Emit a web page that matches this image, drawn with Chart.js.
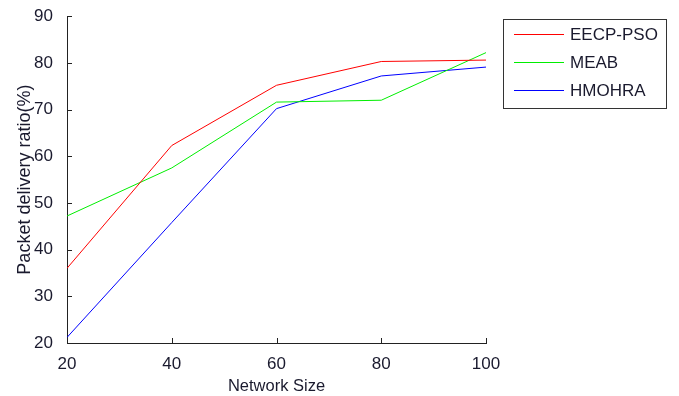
<!DOCTYPE html>
<html>
<head>
<meta charset="utf-8">
<script src="https://cdn.jsdelivr.net/npm/chart.js@4"></script>
<style>
html,body{margin:0;padding:0;background:#fff;}
#wrap{width:679px;height:396px;}
</style>
</head>
<body>
<div id="wrap"><canvas id="c" width="679" height="396"></canvas></div>
<script>
const networkSize = [20, 40, 60, 80, 100];
const eecpPso = [36.0, 62.3, 75.2, 80.3, 80.6];
const meab = [47.2, 57.5, 71.6, 72.0, 82.2];
const hmohra = [21.2, 45.8, 70.2, 77.2, 79.1];
const yTicks = [20, 30, 40, 50, 60, 70, 80, 90];
const xTicks = [20, 40, 60, 80, 100];
const seriesNames = ['EECP-PSO', 'MEAB', 'HMOHRA'];
const seriesColors = ['#ff0000', '#00ee00', '#0000ff'];

const FONT = '"Liberation Sans", Arial, sans-serif';
const TXT = '#1a1a2e';

function pts(vals){ return networkSize.map((x,i)=>({x:x, y:vals[i]})); }

const inwardTicks = {
  id:'inwardTicks',
  afterDraw(chart){
    const ctx = chart.ctx, xs = chart.scales.x, ys = chart.scales.y, ca = chart.chartArea;
    ctx.save();
    ctx.strokeStyle = '#222'; ctx.lineWidth = 1;
    ctx.beginPath();
    xTicks.forEach(v=>{ const px = Math.round(xs.getPixelForValue(v))+0.5; ctx.moveTo(px, ca.bottom); ctx.lineTo(px, ca.bottom-5); });
    yTicks.forEach(v=>{ const py = Math.round(ys.getPixelForValue(v))+0.5; ctx.moveTo(ca.left, py); ctx.lineTo(ca.left+5, py); });
    ctx.stroke();
    // legend box
    const bx = 503.5, by = 19.5, bw = 163, bh = 89;
    ctx.fillStyle = '#fff';
    ctx.fillRect(bx, by, bw, bh);
    ctx.strokeStyle = '#333';
    ctx.strokeRect(bx, by, bw, bh);
    const rows = [34, 62, 90];
    ctx.font = '17px ' + FONT;
    ctx.textBaseline = 'middle';
    ctx.textAlign = 'left';
    chart.data.datasets.forEach((ds,i)=>{
      ctx.strokeStyle = ds.borderColor; ctx.lineWidth = 1;
      ctx.beginPath(); ctx.moveTo(514, rows[i]+0.5); ctx.lineTo(564, rows[i]+0.5); ctx.stroke();
      ctx.fillStyle = TXT;
      ctx.fillText(ds.label, 570, rows[i]+1.5);
    });
    ctx.restore();
  }
};

new Chart(document.getElementById('c'), {
  type:'line',
  data:{
    datasets: [eecpPso, meab, hmohra].map((v,i)=>({
      label: seriesNames[i], data: pts(v), borderColor: seriesColors[i],
      backgroundColor: seriesColors[i], borderWidth: 1, pointRadius: 0, tension: 0, fill:false
    }))
  },
  options:{
    responsive:false, animation:false, devicePixelRatio:1,
    layout:{padding:{left:0, right:193, top:16, bottom:0}},
    plugins:{legend:{display:false}, tooltip:{enabled:false}},
    scales:{
      x:{
        type:'linear', min:20, max:100,
        afterBuildTicks(s){ s.ticks = xTicks.map(v=>({value:v})); },
        afterFit(s){ s.height = 53; },
        grid:{display:false},
        border:{display:true, color:'#222', width:1},
        ticks:{color:TXT, font:{family:FONT, size:17}, padding:3, maxRotation:0},
        title:{display:true, text:'Network Size', color:TXT, font:{family:FONT, size:16.5}, padding:{top:0,bottom:0}}
      },
      y:{
        type:'linear', min:20, max:90,
        afterBuildTicks(s){ s.ticks = yTicks.map(v=>({value:v})); },
        afterFit(s){ s.width = 67; },
        grid:{display:false},
        border:{display:true, color:'#222', width:1},
        ticks:{color:TXT, font:{family:FONT, size:17}, padding:6},
        title:{display:true, text:'Packet delivery ratio(%)', color:TXT, font:{family:FONT, size:18}, padding:{top:14,bottom:0}}
      }
    }
  },
  plugins:[inwardTicks]
});
</script>
</body>
</html>
